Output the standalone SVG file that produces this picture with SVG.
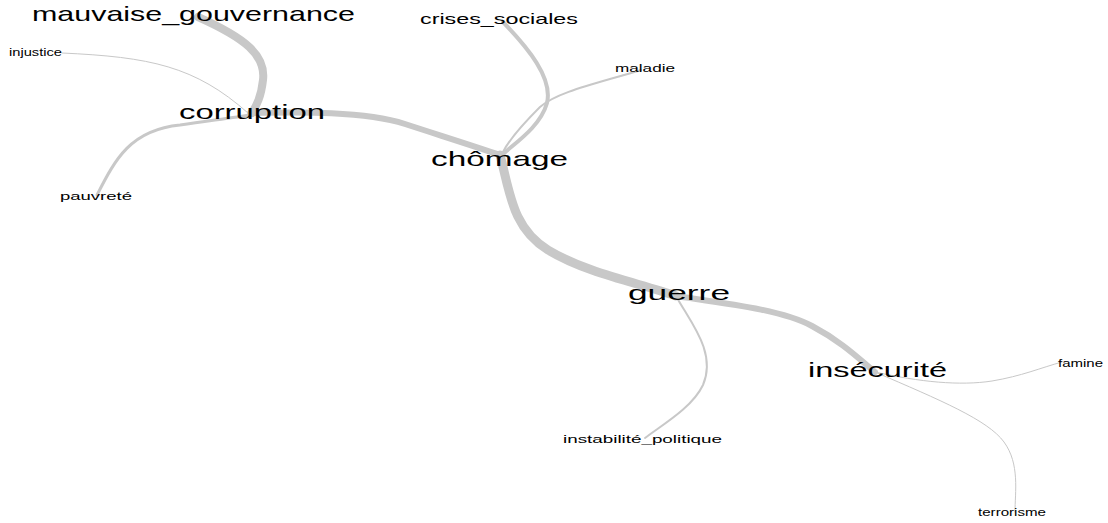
<svg xmlns="http://www.w3.org/2000/svg" width="1108" height="523" viewBox="0 0 1108 523">
<style>
.e{fill:none;stroke:#c8c8c8;stroke-linecap:round}
.t{font-family:"Liberation Sans",Arial,sans-serif;fill:#000;text-anchor:middle}
.big{font-size:21px}
.mid{font-size:15px}
.sm{font-size:11px}
.xs{font-size:10px}
</style>
<rect width="1108" height="523" fill="#fff"/>
<g id="connectors">
<path class="e" stroke-width="8" d="M198,17 C245,38 266,55 263,80 C261,98 256,106 252,113"/>
<path class="e" stroke-width="1" d="M62,53 C150,57 195,66 248,113"/>
<path class="e" stroke-width="3" d="M97,195 C115,160 130,130 180,125 C215,120 238,117 250,115"/>
<path class="e" stroke-width="6" d="M250,113 C300,112 365,111 405,124 C445,137 480,148 500,155"/>
<path class="e" stroke-width="4" d="M503,22 C528,48 553,78 547,103 C540,128 512,145 502,155"/>
<path class="e" stroke-width="2" d="M641,70 C595,84 557,92 540,107 C522,125 509,140 503,152"/>
<path class="e" stroke-width="9" d="M500,155 C510,192 512,228 548,250 C588,274 640,283 676,296"/>
<path class="e" stroke-width="6" d="M676,296 C730,304 782,310 812,326 C842,342 857,357 875,372"/>
<path class="e" stroke-width="2" d="M676,296 C690,322 717,352 703,385 C692,408 662,425 645,438"/>
<path class="e" stroke-width="1" d="M875,372 C920,382 960,386 992,381 C1022,376 1040,368 1062,362"/>
<path class="e" stroke-width="1" d="M875,372 C940,400 988,420 1004,442 C1020,464 1015,492 1015,512"/>
</g>
<g id="mauvaise_gouvernance"><text class="t big" x="193.5" y="21" textLength="323" lengthAdjust="spacingAndGlyphs">mauvaise_gouvernance</text></g>
<g id="injustice"><text class="t xs" x="35.5" y="56" textLength="53" lengthAdjust="spacingAndGlyphs">injustice</text></g>
<g id="corruption"><text class="t big" x="252" y="119" textLength="146" lengthAdjust="spacingAndGlyphs">corruption</text></g>
<g id="pauvrete"><text class="t sm" x="96" y="200" textLength="72" lengthAdjust="spacingAndGlyphs">pauvreté</text></g>
<g id="crises_sociales"><text class="t mid" x="499" y="24" textLength="158" lengthAdjust="spacingAndGlyphs">crises_sociales</text></g>
<g id="maladie"><text class="t sm" x="645" y="72" textLength="60" lengthAdjust="spacingAndGlyphs">maladie</text></g>
<g id="chomage"><text class="t big" x="499.5" y="166" textLength="137" lengthAdjust="spacingAndGlyphs">chômage</text></g>
<g id="guerre"><text class="t big" x="679" y="300" textLength="102" lengthAdjust="spacingAndGlyphs">guerre</text></g>
<g id="insecurite"><text class="t big" x="877.5" y="377" textLength="139" lengthAdjust="spacingAndGlyphs">insécurité</text></g>
<g id="famine"><text class="t xs" x="1080.5" y="367" textLength="45" lengthAdjust="spacingAndGlyphs">famine</text></g>
<g id="instabilite_politique"><text class="t sm" x="642.5" y="443" textLength="159" lengthAdjust="spacingAndGlyphs">instabilité_politique</text></g>
<g id="terrorisme"><text class="t xs" x="1012" y="516" textLength="68" lengthAdjust="spacingAndGlyphs">terrorisme</text></g>
</svg>
